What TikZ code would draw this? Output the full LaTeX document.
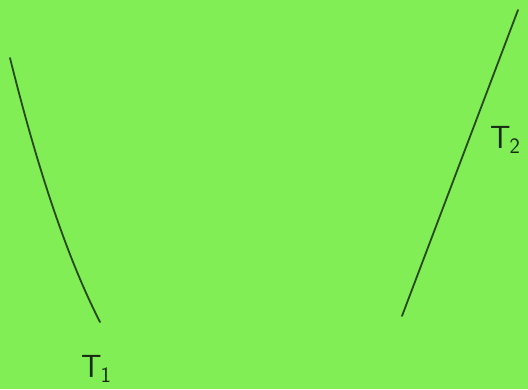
\documentclass[tikz,border=0pt]{standalone}
\usepackage{xcolor}
\usepackage{tikz}
\usetikzlibrary{positioning, calc}
\definecolor{mybg}{RGB}{128,238,84}
\definecolor{myink}{RGB}{40,72,30}
\newcommand{\tsub}[1]{\raisebox{-0.35ex}{\fontsize{22}{24}\selectfont #1}}
\tikzset{
  wire/.style={draw=myink, line width=1.8pt, line cap=round},
  lbl/.style={text=myink!60!black, font=\sffamily\fontsize{32}{36}\selectfont, inner sep=0pt}
}
\begin{document}
\begin{tikzpicture}[x=1pt, y=-1pt]
  % Background
  \fill[mybg] (0,0) rectangle (528,389);
  \useasboundingbox (0,0) rectangle (528,389);

  % Left line (T1)
  \coordinate (t1top) at (10,58);
  \coordinate (t1bot) at (100,322);
  \draw[wire] (t1top) .. controls (28,130) and (58,240) .. (t1bot);
  \node[lbl] (t1) at (96,369) {T\kern-1pt\tsub{1}};

  % Right line (T2)
  \coordinate (t2top) at (518,10);
  \coordinate (t2bot) at (402,316);
  \draw[wire] (t2top) -- (t2bot);
  \node[lbl] (t2) at (505,140) {T\kern-1pt\tsub{2}};
\end{tikzpicture}
\end{document}
